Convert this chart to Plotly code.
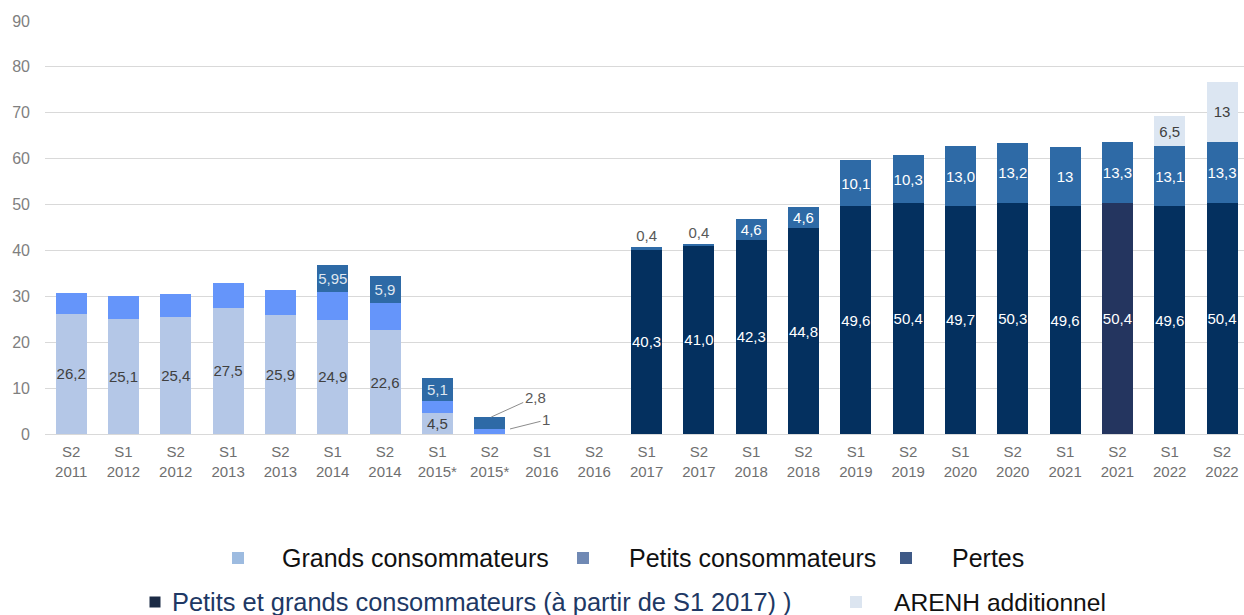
import plotly.graph_objects as go

# ---------------- data ----------------
categories = ["S2<br>2011", "S1<br>2012", "S2<br>2012", "S1<br>2013", "S2<br>2013",
              "S1<br>2014", "S2<br>2014", "S1<br>2015*", "S2<br>2015*", "S1<br>2016",
              "S2<br>2016", "S1<br>2017", "S2<br>2017", "S1<br>2018", "S2<br>2018",
              "S1<br>2019", "S2<br>2019", "S1<br>2020", "S2<br>2020", "S1<br>2021",
              "S2<br>2021", "S1<br>2022", "S2<br>2022"]

grands = [26.2, 25.1, 25.4, 27.5, 25.9, 24.9, 22.6, 4.5, None, None,
          None, None, None, None, None, None, None, None, None, None, None, None, None]
grands_txt = ["26,2", "25,1", "25,4", "27,5", "25,9", "24,9", "22,6", "4,5", "", "",
              "", "", "", "", "", "", "", "", "", "", "", "", ""]

petits = [4.6, 5.0, 5.1, 5.4, 5.5, 6.0, 6.0, 2.6, 1.0, None,
          None, None, None, None, None, None, None, None, None, None, None, None, None]

petits_grands = [None, None, None, None, None, None, None, None, None, None,
                 None, 40.3, 41.0, 42.3, 44.8, 49.6, 50.4, 49.7, 50.3, 49.6, 50.4, 49.6, 50.4]
petits_grands_txt = ["", "", "", "", "", "", "", "", "", "",
                     "", "40,3", "41,0", "42,3", "44,8", "49,6", "50,4", "49,7", "50,3", "49,6",
                     "50,4", "49,6", "50,4"]

pertes = [None, None, None, None, None, 5.95, 5.9, 5.1, 2.8, None,
          None, 0.4, 0.4, 4.6, 4.6, 10.1, 10.3, 13.0, 13.2, 13.0, 13.3, 13.1, 13.3]
pertes_txt = ["", "", "", "", "", "5,95", "5,9", "5,1", "", "",
              "", "0,4", "0,4", "4,6", "4,6", "10,1", "10,3", "13,0", "13,2", "13",
              "13,3", "13,1", "13,3"]

arenh = [None] * 21 + [6.5, 13.0]
arenh_txt = [""] * 21 + ["6,5", "13"]

callout_idx = 8
callout_labels = ["2,8", "1"]

# ---------------- styles ----------------
C_GRANDS = "#b4c7e7"
C_PETITS = "#6595fa"
C_PERTES = "#2e6aa6"
C_NAVY = "#04305f"
C_NAVY_ALT = "#24355f"
C_ARENH = "#dce6f2"
FONT = "Liberation Sans, Arial, sans-serif"

L, T, W, H = 45, 21, 1199, 413  # plot area in pixels


def px(x):
    return (x - L) / W


def py(y):
    return (T + H - y) / H


navy_colors = [C_NAVY_ALT if c == "S2<br>2021" else C_NAVY for c in categories]
pertes_pos = ["outside" if (v is not None and v < 1) else "inside" for v in pertes]
pertes_txtcol = ["#dfe6f0" if i < 11 else "#ffffff" for i in range(len(categories))]

fig = go.Figure()
fig.add_trace(go.Bar(x=categories, y=grands, name="Grands consommateurs",
                     marker=dict(color=C_GRANDS, line=dict(width=0)),
                     text=grands_txt, textposition="inside", insidetextanchor="middle",
                     textangle=0, textfont=dict(color="#404040", size=15, family=FONT)))
fig.add_trace(go.Bar(x=categories, y=petits, name="Petits consommateurs",
                     marker=dict(color=C_PETITS, line=dict(width=0))))
fig.add_trace(go.Bar(x=categories, y=petits_grands,
                     name="Petits et grands consommateurs (à partir de S1 2017) )",
                     marker=dict(color=navy_colors, line=dict(width=0)),
                     text=petits_grands_txt, textposition="inside", insidetextanchor="middle",
                     textangle=0, textfont=dict(color="#ffffff", size=15, family=FONT)))
fig.add_trace(go.Bar(x=categories, y=pertes, name="Pertes",
                     marker=dict(color=C_PERTES, line=dict(width=0)),
                     text=pertes_txt, textposition=pertes_pos, insidetextanchor="middle",
                     textangle=0,
                     insidetextfont=dict(color=pertes_txtcol, size=15, family=FONT),
                     outsidetextfont=dict(color="#595959", size=15, family=FONT),
                     cliponaxis=False))
fig.add_trace(go.Bar(x=categories, y=arenh, name="ARENH additionnel",
                     marker=dict(color=C_ARENH, line=dict(width=0)),
                     text=arenh_txt, textposition="inside", insidetextanchor="middle",
                     textangle=0, textfont=dict(color="#404040", size=15, family=FONT)))

# callouts for S2 2015*
tot_8 = (petits[callout_idx] or 0) + (pertes[callout_idx] or 0)
fig.add_annotation(x=callout_idx + 0.03, y=tot_8 - 0.1, xref="x", yref="y",
                   text=callout_labels[0], showarrow=True, arrowhead=0, arrowwidth=1,
                   arrowcolor="#8c8c8c", ax=44, ay=-20, standoff=0,
                   font=dict(size=15, color="#595959", family=FONT))
fig.add_annotation(x=callout_idx + 0.39, y=petits[callout_idx] * 1.1, xref="x", yref="y",
                   text=callout_labels[1], showarrow=True, arrowhead=0, arrowwidth=1,
                   arrowcolor="#8c8c8c", ax=36, ay=-9, standoff=0,
                   font=dict(size=15, color="#595959", family=FONT))

# ---------------- custom legend ----------------
legend_rows = [
    # (marker x px, marker y px, size, color, text x px, text, text color, font size)
    (238, 558, 12, "#9dbbe0", 280, "Grands consommateurs", "#111111", 25),
    (583, 558, 12, "#7089b4", 627, "Petits consommateurs", "#111111", 25),
    (906, 558, 12, "#3f5a87", 950, "Pertes", "#111111", 25),
    (155, 602, 11, "#1b2b45", 170, "Petits et grands consommateurs (à partir de S1 2017) )", "#203864", 25.4),
    (856, 602, 12, "#dce5f0", 892, "ARENH additionnel", "#111111", 24.6),
]
for mx, my, ms, mc, tx, txt, tc, fs in legend_rows:
    fig.add_shape(type="rect", xref="paper", yref="paper",
                  xsizemode="pixel", ysizemode="pixel",
                  xanchor=px(mx), yanchor=py(my),
                  x0=-ms / 2, x1=ms / 2, y0=-ms / 2, y1=ms / 2,
                  fillcolor=mc, line=dict(width=0))
    fig.add_annotation(x=px(tx), y=py(my), xref="paper", yref="paper",
                       xanchor="left", yanchor="middle", showarrow=False,
                       text=txt, font=dict(size=fs, color=tc, family=FONT))

fig.update_layout(
    width=1244, height=615,
    margin=dict(l=L, r=1244 - L - W, t=T, b=615 - T - H),
    barmode="stack", bargap=0.407,
    plot_bgcolor="white", paper_bgcolor="white",
    showlegend=False,
    uniformtext=dict(minsize=15, mode="show"),
    font=dict(family=FONT),
)
fig.update_xaxes(type="category", range=[-0.5, 22.42],
                 tickfont=dict(size=15, color="#6f6f6f", family=FONT),
                 showgrid=False, showline=True, linecolor="#d9d9d9", linewidth=1,
                 ticks="", ticklabelstandoff=4, fixedrange=True)
fig.update_yaxes(range=[0, 90], dtick=10, tick0=0,
                 tickfont=dict(size=16, color="#7f7f7f", family=FONT),
                 showgrid=True, gridcolor="#d9d9d9", gridwidth=1,
                 zeroline=False, showline=False, ticks="", ticklabelstandoff=14,
                 fixedrange=True)

fig.write_html("out.html", config={"displayModeBar": False},
               post_script="document.body.style.margin='0';document.body.style.overflow='hidden';")
